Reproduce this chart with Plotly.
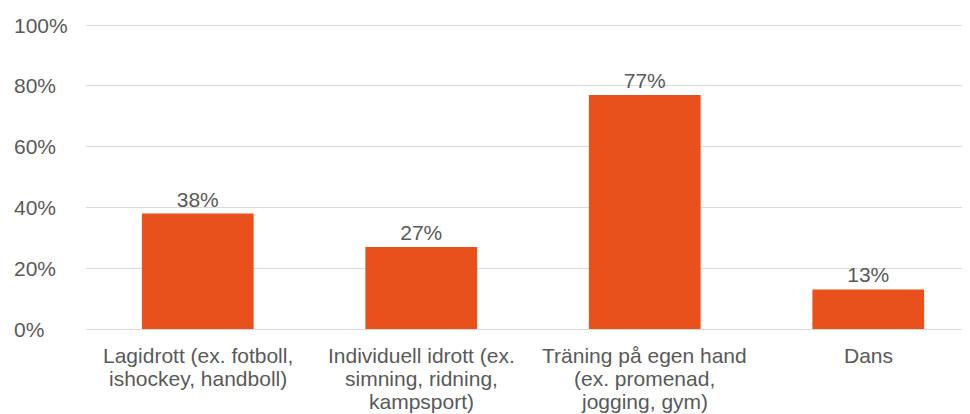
import plotly.graph_objects as go

categories = [
    "Lagidrott (ex. fotboll,<br>ishockey, handboll)",
    "Individuell idrott (ex.<br>simning, ridning,<br>kampsport)",
    "Träning på egen hand<br>(ex. promenad,<br>jogging, gym)",
    "Dans",
]
values = [38, 27, 77, 13]
y_ticks = [0, 20, 40, 60, 80, 100]
y_tick_labels = ["0%", "20%", "40%", "60%", "80%", "100%"]

BAR = "#E8501C"
TXT = "#595959"
GRID = "#D9D9D9"
FONT = "Liberation Sans, Arial, sans-serif"
FS = 21

W, H = 962, 406
L, T, B = 78, 11, 85
plot_w = W - L
cat_px = 223.5

fig = go.Figure(go.Bar(
    x=list(range(len(categories))),
    y=values,
    width=0.5,
    marker=dict(color=BAR, line=dict(width=0)),
    text=[f"{v}%" for v in values],
    textposition="outside",
    textfont=dict(family=FONT, size=FS, color=TXT),
    cliponaxis=False,
))

# left-aligned y tick labels
for v, lab in zip(y_ticks, y_tick_labels):
    fig.add_annotation(
        x=(4 - L) / plot_w, xref="paper", y=v, yref="y",
        text=lab, showarrow=False, xanchor="left", yanchor="middle",
        font=dict(family=FONT, size=FS, color=TXT),
    )

# category labels, tight line spacing
for i, cat in enumerate(categories):
    for k, line in enumerate(cat.split("<br>")):
        fig.add_annotation(
            x=i, xref="x", y=0, yref="paper",
            text=line, showarrow=False, xanchor="center", yanchor="middle",
            yshift=-(26 + k * 23.3),
            font=dict(family=FONT, size=FS, color=TXT),
        )

fig.update_layout(
    width=W, height=H,
    margin=dict(l=L, r=0, t=T, b=B, autoexpand=False),
    paper_bgcolor="white", plot_bgcolor="white",
    showlegend=False,
    font=dict(family=FONT, size=FS, color=TXT),
    xaxis=dict(
        range=[-0.5, -0.5 + plot_w / cat_px],
        tickvals=list(range(len(categories))),
        showticklabels=False,
        showgrid=False, zeroline=False, showline=False,
        automargin=False,
    ),
    yaxis=dict(
        range=[0, 102],
        tickvals=y_ticks,
        showticklabels=False,
        showgrid=True, gridcolor=GRID, gridwidth=1,
        zeroline=True, zerolinecolor=GRID, zerolinewidth=1,
        showline=False, automargin=False,
    ),
)

fig.write_html("out.html")
